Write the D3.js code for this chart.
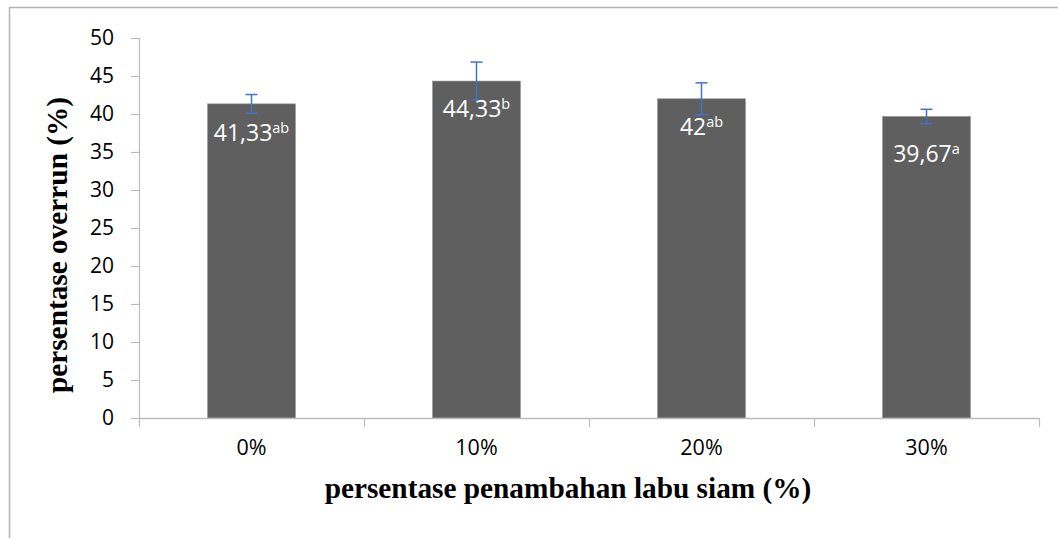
<!DOCTYPE html>
<html>
<head>
<meta charset="utf-8">
<script src="https://cdn.jsdelivr.net/npm/d3@7"></script>
<style>
  html, body { margin: 0; padding: 0; background: #fff; }
  svg { display: block; }
</style>
</head>
<body>
<svg id="chart" width="1058" height="538"></svg>
<script>
// ---- data ----
const categories = ["0%", "10%", "20%", "30%"];
const values = [41.33, 44.33, 42, 39.67];
const errors = [1.23, 2.5, 2.1, 0.95];
const valueLabels = ["41,33", "44,33", "42", "39,67"];
const superscripts = ["ab", "b", "ab", "a"];
const yTicks = [0, 5, 10, 15, 20, 25, 30, 35, 40, 45, 50];
const yTitle = "persentase overrun (%)";
const xTitle = "persentase penambahan labu siam (%)";

(function () {
// ---- layout ----
const svg = d3.select("#chart");
const pLeft = 139, pRight = 1039, pTop = 38, pBottom = 418;
const labelOffsets = [37, 36, 36, 45];

const x = d3.scaleBand().domain(categories).range([pLeft, pRight]).padding(0);
const y = d3.scaleLinear().domain([0, 50]).range([pBottom, pTop]);
const barW = x.bandwidth() * 0.39;

// outer border (top + left visible)
svg.append("path")
  .attr("d", `M9.5,545 V7.5 H1065`)
  .attr("fill", "none").attr("stroke", "#b4b4b4").attr("stroke-width", 1.5);

// bars
svg.selectAll("rect.bar").data(values).enter().append("rect")
  .attr("class", "bar")
  .attr("x", (d, i) => x(categories[i]) + x.bandwidth() / 2 - barW / 2)
  .attr("y", d => y(d))
  .attr("width", barW)
  .attr("height", d => y(0) - y(d))
  .attr("fill", "#5f5f5f")
  .attr("stroke", "#8a8a8a").attr("stroke-width", 0.6);

// y axis
const yAxis = d3.axisLeft(y).tickValues(yTicks).tickSize(8).tickPadding(17).tickFormat(d3.format("d"));
const gy = svg.append("g").attr("transform", `translate(${pLeft},0)`).call(yAxis);
gy.select(".domain").attr("stroke", "#bcbcbc").attr("stroke-width", 1.2).attr("d", `M-8,${pTop}.5H0.5V${pBottom}`);
gy.selectAll(".tick line").attr("stroke", "#bcbcbc").attr("stroke-width", 1.2);
gy.selectAll(".tick text").attr("fill", "#000")
  .style("font-family", "'Open Sans', sans-serif").style("font-size", "21px");

// x axis
const xAxis = d3.axisBottom(x).tickSize(0).tickPadding(22);
const gx = svg.append("g").attr("transform", `translate(0,${pBottom})`).call(xAxis);
gx.select(".domain").attr("stroke", "#bcbcbc").attr("stroke-width", 1.5).attr("d", `M${pLeft},0.5H${pRight}`);
gx.selectAll(".tick text").attr("fill", "#000")
  .style("font-family", "'Open Sans', sans-serif").style("font-size", "21.5px");
// category boundary ticks
const bounds = categories.map(c => x(c)).concat([pRight]);
gx.selectAll("line.bound").data(bounds).enter().append("line")
  .attr("class", "bound")
  .attr("x1", d => d + 0.5).attr("x2", d => d + 0.5)
  .attr("y1", 0).attr("y2", 9)
  .attr("stroke", "#bcbcbc").attr("stroke-width", 1.2);

// error bars
const eb = svg.append("g").attr("stroke", "#4472c4").attr("stroke-width", 1.5).attr("fill", "none");
values.forEach((v, i) => {
  const cx = x(categories[i]) + x.bandwidth() / 2;
  const y1 = y(v + errors[i]), y2 = y(v - errors[i]);
  eb.append("line").attr("x1", cx).attr("x2", cx).attr("y1", y1).attr("y2", y2);
  eb.append("line").attr("x1", cx - 6).attr("x2", cx + 6).attr("y1", y1).attr("y2", y1);
  eb.append("line").attr("x1", cx - 6).attr("x2", cx + 6).attr("y1", y2).attr("y2", y2);
});

// value labels
values.forEach((v, i) => {
  const cx = x(categories[i]) + x.bandwidth() / 2;
  const t = svg.append("text")
    .attr("x", cx).attr("y", y(v) + labelOffsets[i])
    .attr("text-anchor", "middle").attr("fill", "#fff")
    .style("font-family", "'Open Sans', sans-serif").style("font-size", "23px");
  t.append("tspan").text(valueLabels[i]);
  t.append("tspan").attr("dy", -8).style("font-size", "14.5px").text(superscripts[i]);
});

// axis titles
svg.append("text")
  .attr("x", 568).attr("y", 498)
  .attr("text-anchor", "middle")
  .style("font-family", "'Liberation Serif', 'Times New Roman', serif")
  .style("font-weight", "bold").style("font-size", "29.3px")
  .text(xTitle);

svg.append("text")
  .attr("transform", "translate(67,245) rotate(-90)")
  .attr("text-anchor", "middle")
  .style("font-family", "'Liberation Serif', 'Times New Roman', serif")
  .style("font-weight", "bold").style("font-size", "29.3px")
  .text(yTitle);
})();
</script>
</body>
</html>
